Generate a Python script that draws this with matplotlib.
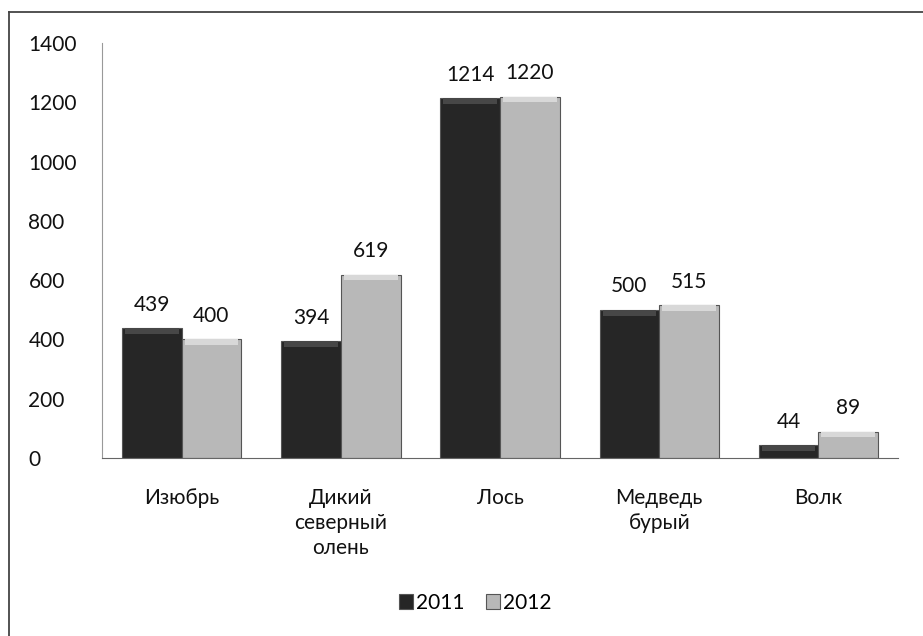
import matplotlib
matplotlib.use('Agg')
import matplotlib.pyplot as plt
import numpy as np
from matplotlib.lines import Line2D

categories = ['Изюбрь', 'Дикий\nсеверный\nолень', 'Лось', 'Медведь\nбурый', 'Волк']
vals_2011 = [439, 394, 1214, 500, 44]
vals_2012 = [400, 619, 1220, 515, 89]
years = ['2011', '2012']

plt.rcParams['font.family'] = ['Lato', 'DejaVu Sans']
fs = 15

fig = plt.figure(figsize=(9.23, 6.36), dpi=100)
ax = fig.add_axes([0.1105, 0.280, 0.8625, 0.652])

x = np.arange(len(categories))
w = 0.375
series = [(vals_2011, '#262626', '#474747', -w / 2),
          (vals_2012, '#b8b8b8', '#d8d8d8', w / 2)]
for (vals, col, cap, off), lab in zip(series, years):
    ax.bar(x + off, vals, width=w, color=col, edgecolor='#555555', linewidth=0.8, label=lab)
    # light cap on top of each bar
    ax.bar(x + off, [20] * len(vals), bottom=np.array(vals) - 20, width=w * 0.9,
           color=cap, edgecolor='none')
    for xi, v in zip(x + off, vals):
        ax.text(xi, v + 45, str(v), ha='center', va='bottom', fontsize=fs, color='#111111')

ax.set_xlim(-0.5, len(categories) - 0.5)
ax.set_ylim(0, 1400)
ax.set_yticks(range(0, 1401, 200))
ax.set_xticks(x)
ax.set_xticklabels(categories, fontsize=fs, linespacing=1.3, color='#111111')
ax.tick_params(axis='y', labelsize=fs, length=0, pad=53, labelcolor='#111111')
ax.tick_params(axis='x', length=0, pad=22)
for s in ['top', 'right']:
    ax.spines[s].set_visible(False)
ax.spines['left'].set_color('#999999')
ax.spines['bottom'].set_color('#666666')
for lbl in ax.get_yticklabels():
    lbl.set_horizontalalignment('left')

handles, labels = ax.get_legend_handles_labels()
fig.legend(handles, labels, loc='center', bbox_to_anchor=(0.515, 0.052), ncol=2,
           frameon=False, fontsize=fs, handlelength=0.7, handleheight=0.7,
           handletextpad=0.15, columnspacing=1.0)

# frame: only left and top edges visible
fig.lines.append(Line2D([0.0095, 0.0095], [0.0, 0.981], transform=fig.transFigure,
                        color='#444444', linewidth=1.3))
fig.lines.append(Line2D([0.0095, 1.0], [0.981, 0.981], transform=fig.transFigure,
                        color='#444444', linewidth=1.3))

fig.savefig('out.png', dpi=100)
